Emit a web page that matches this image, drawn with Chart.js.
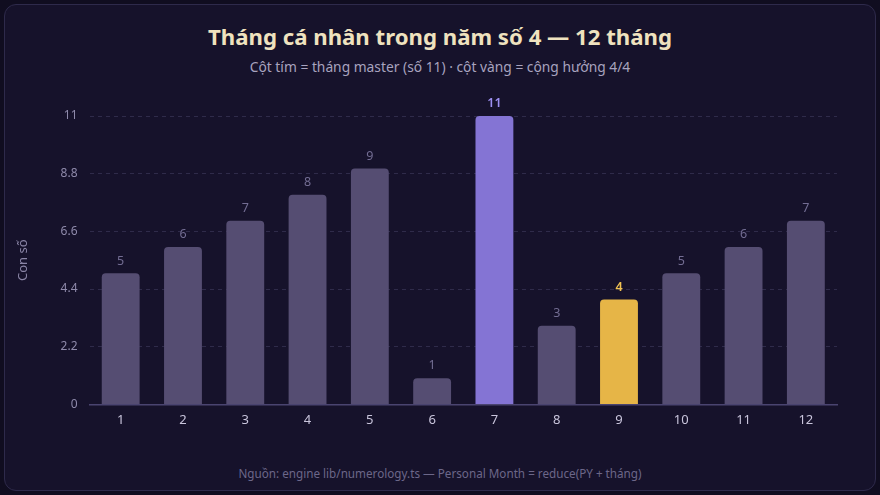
<!DOCTYPE html>
<html lang="vi">
<head>
<meta charset="utf-8">
<script src="https://cdn.jsdelivr.net/npm/chart.js@4/dist/chart.umd.min.js"></script>
<style>
  html, body { margin: 0; padding: 0; background: #100d20; }
  body { width: 880px; height: 495px; position: relative; font-family: "Noto Sans", sans-serif; overflow: hidden; }
  .card {
    position: absolute; left: 4px; top: 4px; width: 870px; height: 485px;
    background: #16122b; border: 1.5px solid #2e2a4b; border-radius: 12px;
  }
  h1 { position: absolute; top: 16px; left: 0; width: 100%; margin: 0; text-align: center;
       font-size: 22.2px; font-weight: 700; color: #efe2bf; }
  .sub { position: absolute; top: 52px; left: 0; width: 100%; text-align: center;
         font-size: 13.8px; color: #a8a3bf; }
  .foot { position: absolute; top: 460px; left: 0; width: 100%; text-align: center;
          font-size: 11.7px; color: #6c6789; }
  .wrap { position: absolute; left: 2px; top: 89px; width: 846px; height: 334px; }
</style>
</head>
<body>
<div class="card">
  <h1>Tháng cá nhân trong năm số 4 — 12 tháng</h1>
  <div class="sub">Cột tím = tháng master (số 11) · cột vàng = cộng hưởng 4/4</div>
  <div class="wrap"><canvas id="chart"></canvas></div>
  <div class="foot">Nguồn: engine lib/numerology.ts — Personal Month = reduce(PY + tháng)</div>
</div>
<script>
// Data
const months = ['1', '2', '3', '4', '5', '6', '7', '8', '9', '10', '11', '12'];
const personalMonth = [5, 6, 7, 8, 9, 1, 11, 3, 4, 5, 6, 7];
const yTicks = [0, 2.2, 4.4, 6.6, 8.8, 11];

const MASTER = 11, YEAR = 4;

function barColor(v) {
    if (v === MASTER) return '#8474d4';
    if (v === YEAR) return '#e6b547';
    return '#554d72';
}
function labelColor(v) {
    if (v === MASTER) return '#9d90f2';
    if (v === YEAR) return '#f0c252';
    return '#736d93';
}

// Draws the value above each bar
const valueLabels = {
    id: 'valueLabels',
    afterDatasetsDraw(chart) {
        const ctx = chart.ctx;
        const meta = chart.getDatasetMeta(0);
        ctx.save();
        ctx.textAlign = 'center';
        ctx.textBaseline = 'bottom';
        meta.data.forEach((bar, i) => {
            const v = personalMonth[i];
            const special = v === MASTER || v === YEAR;
            ctx.font = (special ? '600 ' : '') + '12.5px "Noto Sans", sans-serif';
            ctx.fillStyle = labelColor(v);
            ctx.fillText(String(v), bar.x, bar.y - 6);
        });
        ctx.restore();
    }
};

new Chart(document.getElementById('chart').getContext('2d'), {
    type: 'bar',
    data: {
        labels: months,
        datasets: [{
            data: personalMonth,
            backgroundColor: personalMonth.map(barColor),
            borderRadius: 4,
            borderSkipped: 'bottom',
            categoryPercentage: 0.8,
            barPercentage: 0.76
        }]
    },
    options: {
        responsive: true,
        maintainAspectRatio: false,
        animation: false,
        layout: { padding: { top: 22, right: 16, left: 4 } },
        plugins: { legend: { display: false }, tooltip: { enabled: false } },
        scales: {
            x: {
                grid: { display: false },
                border: { color: '#4a4470', width: 1.5 },
                ticks: { color: '#c9c5dc', font: { family: 'Noto Sans', size: 13 }, padding: 0 }
            },
            y: {
                min: 0, max: 11,
                afterBuildTicks(axis) { axis.ticks = yTicks.map(v => ({ value: v })); },
                grid: { color: '#2f2b4a', drawTicks: false },
                border: { display: false, dash: [4, 4] },
                ticks: { color: '#8f8aab', font: { family: 'Noto Sans', size: 12 }, padding: 12 },
                title: { display: true, text: 'Con số', color: '#8a85a6', font: { family: 'Noto Sans', size: 13 }, padding: { bottom: 18 } }
            }
        }
    },
    plugins: [valueLabels]
});
</script>
</body>
</html>
